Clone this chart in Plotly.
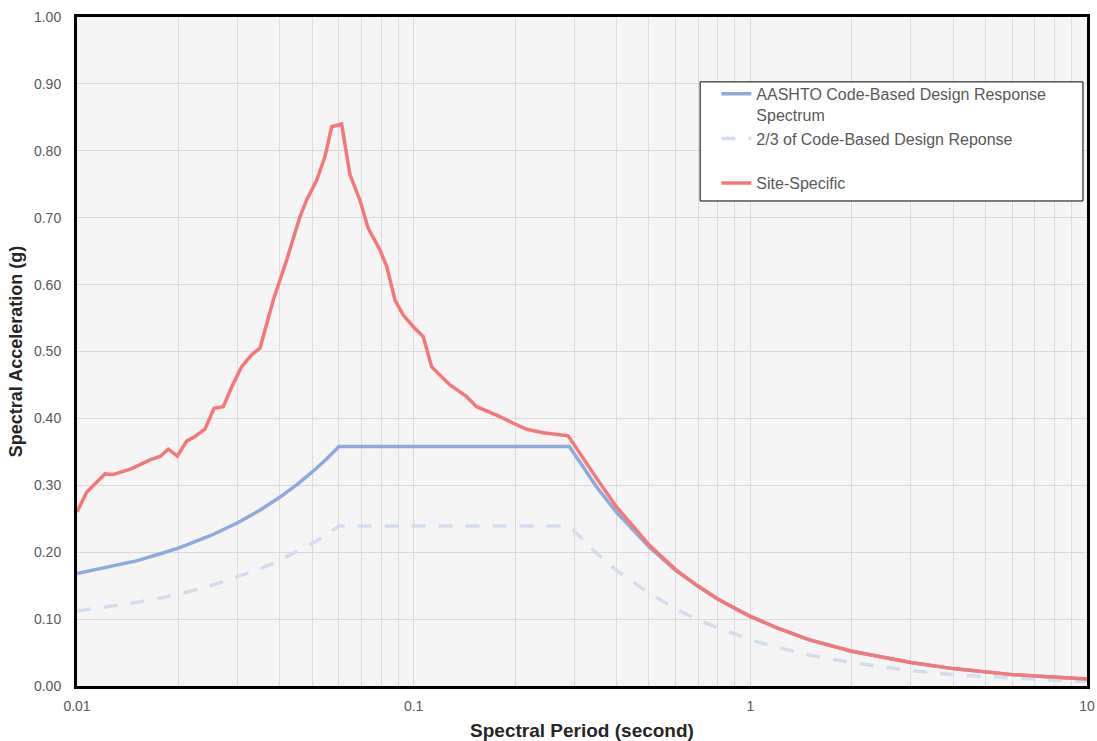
import plotly.graph_objects as go

# ---------------- data ----------------
site_period = [0.01, 0.01069, 0.01211, 0.01282, 0.01454, 0.01647, 0.01765, 0.01867, 0.01986,
               0.02118, 0.0224, 0.0240, 0.02552, 0.0272, 0.0288, 0.0308, 0.0330, 0.03495,
               0.0383, 0.04197, 0.04596, 0.0481, 0.0515, 0.0545, 0.0571, 0.0611, 0.0647,
               0.0692, 0.0733, 0.0794, 0.0832, 0.0880, 0.0931, 0.0997, 0.1068, 0.1131,
               0.1282, 0.1437, 0.1538, 0.1764, 0.1977, 0.2166, 0.2427, 0.2877,
               0.35, 0.4, 0.5, 0.6, 0.7, 0.8, 0.9, 1.0, 1.2, 1.5, 2.0, 2.5, 3.0,
               4.0, 5.0, 6.0, 7.0, 8.0, 9.0, 10.0]
site_sa = [0.260, 0.290, 0.317, 0.316, 0.325, 0.338, 0.343, 0.354, 0.344,
           0.366, 0.373, 0.384, 0.415, 0.4175, 0.447, 0.477, 0.495, 0.505,
           0.577, 0.637, 0.7015, 0.7265, 0.756, 0.791, 0.836, 0.840, 0.764,
           0.7265, 0.684, 0.652, 0.627, 0.577, 0.5545, 0.537, 0.522, 0.477,
           0.450, 0.4325, 0.4175, 0.405, 0.3927, 0.3837, 0.3787, 0.3740,
           0.310, 0.268, 0.211, 0.174, 0.149, 0.130, 0.116, 0.104, 0.087, 0.069,
           0.052, 0.042, 0.035, 0.026, 0.021, 0.017, 0.015, 0.013, 0.0115, 0.0104]

code_period = [0.01, 0.0125, 0.015, 0.0175, 0.02, 0.025, 0.03, 0.035, 0.04, 0.045,
               0.05, 0.055, 0.06, 0.29, 0.35, 0.4, 0.5, 0.6, 0.7, 0.8, 0.9, 1.0,
               1.2, 1.5, 2.0, 2.5, 3.0, 4.0, 5.0, 6.0, 7.0, 8.0, 9.0, 10.0]
code_sa = [0.168, 0.178, 0.187, 0.197, 0.206, 0.225, 0.244, 0.263, 0.282, 0.301,
           0.320, 0.339, 0.358, 0.358, 0.297, 0.260, 0.208, 0.173, 0.149, 0.130,
           0.116, 0.104, 0.087, 0.069, 0.052, 0.042, 0.035, 0.026, 0.021, 0.017,
           0.015, 0.013, 0.0115, 0.0104]
two_thirds_sa = [0.112, 0.119, 0.125, 0.131, 0.137, 0.150, 0.163, 0.175, 0.188, 0.201,
                 0.213, 0.226, 0.239, 0.239, 0.198, 0.173, 0.139, 0.115, 0.099, 0.087,
                 0.077, 0.069, 0.058, 0.046, 0.035, 0.028, 0.023, 0.017, 0.014, 0.0115,
                 0.010, 0.0087, 0.0077, 0.0069]

y_ticks = [0.0, 0.1, 0.2, 0.3, 0.4, 0.5, 0.6, 0.7, 0.8, 0.9, 1.0]
x_ticks = [0.01, 0.1, 1, 10]
x_tick_labels = ["0.01", "0.1", "1", "10"]

names = ["AASHTO Code-Based Design Response<br>Spectrum",
         "2/3 of Code-Based Design Reponse<br> ",
         "Site-Specific"]

# ---------------- figure ----------------
FONT = "Liberation Sans, Arial, sans-serif"
fig = go.Figure()
fig.add_trace(go.Scatter(x=code_period, y=code_sa, mode="lines", name=names[0],
                         line=dict(color="#8eaadc", width=3.5)))
fig.add_trace(go.Scatter(x=code_period, y=two_thirds_sa, mode="lines", name=names[1],
                         line=dict(color="#d3ddef", width=3.5, dash="14px,13px")))
fig.add_trace(go.Scatter(x=site_period, y=site_sa, mode="lines", name=names[2],
                         line=dict(color="#f5777a", width=3.5)))

fig.update_layout(
    width=1097, height=741,
    margin=dict(l=77, r=10, t=17, b=55),
    paper_bgcolor="white",
    plot_bgcolor="#f5f5f5",
    font=dict(family=FONT, size=14, color="#595959"),
    showlegend=True,
    legend=dict(x=0.633, y=0.9105, xanchor="left", yanchor="top",
                bgcolor="rgba(0,0,0,0)", borderwidth=0,
                font=dict(family=FONT, size=16, color="#595959"),
                valign="top", tracegroupgap=0),
    shapes=[dict(type="rect", xref="paper", yref="paper",
                 x0=0.617, x1=0.996, y0=0.725, y1=0.903,
                 fillcolor="white", line=dict(color="black", width=1), layer="above")],
)

fig.update_xaxes(type="log", range=[-2, 1], automargin=False,
                 tickvals=x_ticks, ticktext=x_tick_labels,
                 ticklabeloverflow="allow",
                 showgrid=True, gridcolor="#d9d9d9", gridwidth=1,
                 minor=dict(showgrid=True, gridcolor="#dcdcdc", gridwidth=1,
                            dtick="D1"),
                 showline=True, linecolor="black", linewidth=3, mirror=True,
                 ticks="", ticklabelstandoff=5,
                 tickfont=dict(family=FONT, size=14, color="#595959"),
                 title=dict(text="<b>Spectral Period (second)</b>",
                            font=dict(family=FONT, size=19, color="#262626"),
                            standoff=11),
                 zeroline=False)
fig.update_yaxes(range=[0, 1.0], tickvals=y_ticks, tickformat=".2f", automargin=False,
                 showgrid=True, gridcolor="#d9d9d9", gridwidth=1,
                 showline=True, linecolor="black", linewidth=3, mirror=True,
                 ticks="", ticklabelstandoff=10,
                 tickfont=dict(family=FONT, size=14, color="#595959"),
                 title=dict(text="<b>Spectral Acceleration (g)</b>",
                            font=dict(family=FONT, size=18, color="#262626"),
                            standoff=7),
                 zeroline=False)

# remove the browser's default 8px page margin so the figure fills the window
fig.write_html("out.html",
               config={"displayModeBar": False},
               post_script="document.body.style.margin='0';document.body.style.overflow='hidden';")
